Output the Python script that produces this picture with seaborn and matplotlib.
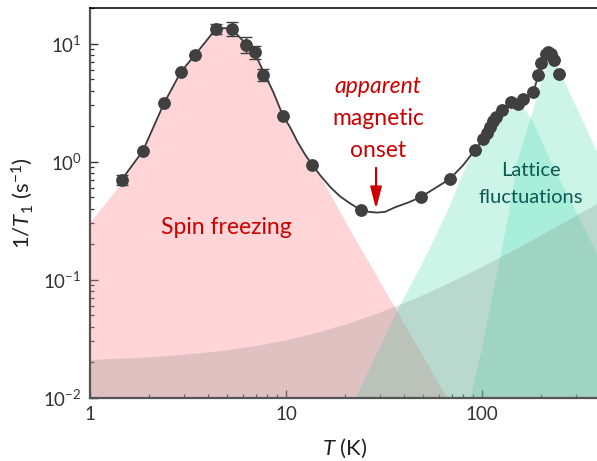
import matplotlib
matplotlib.use("Agg")
import matplotlib.pyplot as plt
import seaborn as sns
import numpy as np
import pandas as pd

# ---------------- data ----------------
temp_pts = [1.46, 1.86, 2.39, 2.91, 3.43, 4.39, 5.3, 6.25, 6.95, 7.63, 9.65, 13.6,
            24.0, 48.7, 68.4, 92.0, 101.0, 106.0, 110.0, 114.0, 118.0, 127.0, 141.0,
            152.0, 162.0, 183.0, 194.0, 201.0, 212.0, 218.0, 225.0, 232.0, 248.0]
rate_pts = [0.70, 1.23, 3.14, 5.75, 8.0, 13.3, 13.3, 9.75, 8.5, 5.43, 2.45, 0.94,
            0.39, 0.50, 0.71, 1.25, 1.55, 1.75, 1.98, 2.2, 2.4, 2.74, 3.22,
            3.05, 3.4, 3.9, 5.4, 6.8, 8.2, 8.4, 8.1, 7.2, 5.5]
rate_err = [0.07, 0.0, 0.0, 0.0, 0.0, 1.3, 1.8, 1.5, 1.1, 0.6, 0.0, 0.0,
            0.0, 0.0, 0.0, 0.0, 0.0, 0.0, 0.0, 0.0, 0.0, 0.0, 0.0,
            0.0, 0.0, 0.0, 0.0, 0.0, 0.0, 0.0, 0.0, 0.0, 0.0]

# guide-to-the-eye curve
curve_T = [1.44, 1.86, 2.39, 2.91, 3.43, 4.39, 4.85, 5.3, 6.25, 6.95, 7.63, 8.6, 9.65,
           10.5, 11.5, 12.5, 13.6, 15.0, 16.8, 18.8, 21.2, 24.0, 26.5, 29.1, 32.0,
           36.0, 42.0, 48.7, 58.0, 68.4, 80.0, 92.0, 101.0, 110.0,
           118.0, 127.0, 141.0, 152.0, 162.0, 183.0, 194.0, 201.0, 212.0]
curve_y = [0.69, 1.23, 3.14, 5.75, 8.0, 13.3, 13.5, 13.3, 9.9, 8.2, 5.9, 3.9, 2.45,
           1.95, 1.45, 1.15, 0.94, 0.76, 0.61, 0.51, 0.443, 0.39, 0.375, 0.37, 0.375,
           0.41, 0.45, 0.50, 0.60, 0.71, 0.93, 1.25, 1.55, 1.98,
           2.4, 2.74, 3.1, 3.2, 3.4, 3.9, 5.4, 6.8, 8.2]

# shaded contributions (upper boundaries)
spin_T = [1.0, 1.39] + [t for t in curve_T if t <= 13.6] + [15.3, 21.2, 66.1]
spin_y = [0.308, 0.61] + [y for t, y in zip(curve_T, curve_y) if t <= 13.6] + [0.70, 0.264, 0.01]

latt1_T = [22.5, 36.7, 48.3, 58.0, 67.9, 78.0, 90.0, 109.9, 131.0, 145.0, 156.0, 169.7,
           182.0, 222.0, 316.0, 450.0]
latt1_y = [0.01, 0.055, 0.13, 0.24, 0.42, 0.75, 1.21, 1.93, 2.64, 2.95, 3.03, 2.59,
           2.17, 1.03, 0.32, 0.099]

latt2_T = [86.9, 100.0, 116.5, 134.2, 150.9, 175.8, 197.7, 217.0, 230.0, 244.0, 386.0, 640.0]
latt2_y = [0.01, 0.028, 0.0993, 0.321, 1.03, 2.34, 4.47, 6.86, 7.28, 6.22, 1.21, 0.225]

bg_T = [1, 2, 3, 5, 7, 10, 15, 20, 30, 40, 50, 70, 100, 120, 150, 200, 250, 300, 400, 600]
bg_y = [0.0211, 0.0222, 0.0233, 0.0255, 0.0277, 0.031, 0.0365, 0.042, 0.053, 0.064,
        0.075, 0.097, 0.13, 0.152, 0.185, 0.24, 0.295, 0.35, 0.46, 0.68]

x_ticks = [1, 10, 100]
x_ticklabels = ["1", "10", "100"]
y_ticks = [0.01, 0.1, 1, 10]
y_ticklabels = [r"$\mathregular{10^{-2}}$", r"$\mathregular{10^{-1}}$",
                r"$\mathregular{10^{0}}$", r"$\mathregular{10^{1}}$"]

# ---------------- style ----------------
sns.set_style("ticks")
plt.rcParams["font.family"] = ["Lato", "DejaVu Sans"]
plt.rcParams["mathtext.fontset"] = "custom"
plt.rcParams["mathtext.rm"] = "Lato"
plt.rcParams["mathtext.it"] = "Lato:italic"
plt.rcParams["mathtext.bf"] = "Lato:bold"

RED = "#cc0000"
TEAL = "#0b5a56"
DOT = "#404040"

fig = plt.figure(figsize=(5.97, 4.61), dpi=100)
ax = fig.add_axes([90 / 597, (461 - 397.7) / 461, (600 - 90) / 597, (397.7 - 8) / 461])
ax.set_xscale("log")
ax.set_yscale("log")
ax.set_xlim(1, 400)
ax.set_ylim(0.01, 20)

floor = 0.005
ax.fill_between(spin_T, floor, spin_y, color=(1.0, 0.51, 0.53), alpha=0.33, lw=0, zorder=1)
ax.fill_between(latt1_T, floor, latt1_y, color=(0.345, 0.87, 0.70), alpha=0.30, lw=0, zorder=1.1)
ax.fill_between(latt2_T, floor, latt2_y, color=(0.345, 0.87, 0.70), alpha=0.30, lw=0, zorder=1.2)
ax.fill_between(bg_T, floor, bg_y, color=(0.53, 0.53, 0.51), alpha=0.25, lw=0, zorder=1.3)

curve_df = pd.DataFrame({"T": curve_T, "y": curve_y})
sns.lineplot(data=curve_df, x="T", y="y", sort=False, estimator=None, color="#3a3a3a",
             lw=1.3, ax=ax, zorder=3)

pts_df = pd.DataFrame({"T": temp_pts, "y": rate_pts, "err": rate_err})
ax.errorbar(pts_df["T"], pts_df["y"], yerr=pts_df["err"], fmt="none", ecolor=DOT,
            elinewidth=1.0, capsize=4.5, capthick=1.0, zorder=4)
sns.scatterplot(data=pts_df, x="T", y="y", color=DOT, s=85, edgecolor=DOT, linewidth=0,
                ax=ax, zorder=5, legend=False)

# annotations
ax.text(4.97, 0.274, "Spin freezing", color=RED, fontsize=16.5, ha="center", va="center")
ax.text(29.5, 4.3, "apparent", color=RED, fontsize=16.5, ha="center", va="center", style="italic")
ax.text(29.5, 2.3, "magnetic", color=RED, fontsize=16.5, ha="center", va="center")
ax.text(29.5, 1.24, "onset", color=RED, fontsize=16.5, ha="center", va="center")
ax.annotate("", xy=(28.8, 0.397), xytext=(28.8, 0.885),
            arrowprops=dict(arrowstyle="-|>,head_length=0.65,head_width=0.17",
                            mutation_scale=20, color=RED, lw=1.6, shrinkA=0, shrinkB=0),
            zorder=6)
ax.text(177.8, 0.834, "Lattice", color=TEAL, fontsize=14.5, ha="center", va="center")
ax.text(177.8, 0.492, "fluctuations", color=TEAL, fontsize=14.5, ha="center", va="center")

# axes styling
ax.set_xticks(x_ticks)
ax.set_xticklabels(x_ticklabels)
ax.set_yticks(y_ticks)
ax.set_yticklabels(y_ticklabels)
ax.tick_params(which="major", direction="in", length=5.5, width=1.0, labelsize=13.5,
               colors="#333333", pad=6)
ax.tick_params(which="minor", direction="in", length=3.0, width=0.9, colors="#333333")
ax.tick_params(axis="x", which="both", top=False)
ax.tick_params(axis="y", which="both", right=False)

for side in ["left", "bottom"]:
    ax.spines[side].set_color("#555555")
    ax.spines[side].set_linewidth(1.6)
ax.spines["top"].set_color("black")
ax.spines["top"].set_linewidth(1.1)
ax.spines["top"].set_visible(True)
ax.spines["right"].set_visible(True)

ax.set_xlabel(r"$\mathit{T}$ (K)", fontsize=16, color="#222222", labelpad=10)
ax.set_ylabel(r"1/$\mathit{T}_\mathregular{1}$ (s$^\mathregular{-1}$)", fontsize=16,
              color="#222222", labelpad=6)

fig.savefig("out.png", dpi=100)
